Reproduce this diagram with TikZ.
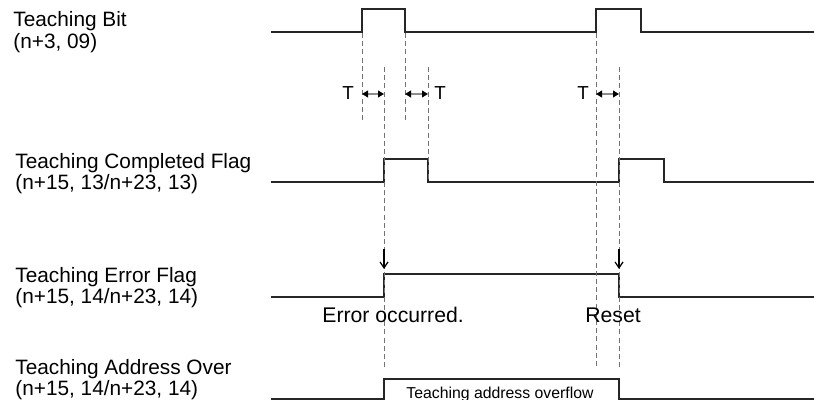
\documentclass[tikz,border=0pt]{standalone}
\usepackage{fontspec}
\setmainfont{Liberation Sans}
\usetikzlibrary{arrows.meta,positioning}

\begin{document}
\begin{tikzpicture}[
  x=0.5pt, y=-0.5pt,
  signal/.style={draw=black!85, line width=0.55pt},
  guide/.style={draw=black!55, line width=0.45pt, dash pattern=on 2.5pt off 1.6pt},
  sigtext/.style={font=\fontsize{10.4}{10.9}\selectfont, align=left, inner sep=0pt, anchor=base west},
  remark/.style={font=\fontsize{10.6}{12}\selectfont, inner sep=0pt, anchor=base west},
  tlabel/.style={font=\fontsize{9.4}{10}\selectfont, inner sep=0pt, anchor=base},
  boxtext/.style={font=\fontsize{7.9}{9}\selectfont, inner sep=0pt, anchor=base},
  span/.style={{Triangle[length=3pt,width=3.4pt,color=black]}-{Triangle[length=3pt,width=3.4pt,color=black]}, draw=black!45, line width=0.6pt},
  event/.style={-{Straight Barb[length=3pt,width=4pt]}, line width=0.6pt}
]
\useasboundingbox (0,0) rectangle (814,400);

% signal names (anchored on the second line)
\node[sigtext] (bitlbl) at (13,48.5) {Teaching Bit\\(n+3, 09)};
\node[sigtext] (donelbl) at (15,190) {Teaching Completed Flag\\(n+15, 13/n+23, 13)};
\node[sigtext] (errlbl) at (15,304) {Teaching Error Flag\\(n+15, 14/n+23, 14)};
\node[sigtext] (overlbl) at (15,396) {Teaching Address Over\\(n+15, 14/n+23, 14)};

% waveforms
\draw[signal] (271,32) -- (362,32) -- (362,9) -- (405,9) -- (405,32) -- (596,32) -- (596,9) -- (641,9) -- (641,32) -- (814,32);
\draw[signal] (271,182) -- (384,182) -- (384,159) -- (428,159) -- (428,182) -- (619,182) -- (619,159) -- (664,159) -- (664,182) -- (814,182);
\draw[signal] (271,297) -- (384,297) -- (384,274) -- (619,274) -- (619,297) -- (814,297);
\draw[signal] (271,399) -- (384,399) -- (384,379) -- (619,379) -- (619,399) -- (814,399);

% timing guides
\coordinate (up1) at (362,33);   \coordinate (up1e) at (362,123);
\coordinate (dn1) at (405,33);   \coordinate (dn1e) at (405,123);
\coordinate (ok1) at (384,67);   \coordinate (ok1e) at (384,368);
\coordinate (ok2) at (428,67);   \coordinate (ok2e) at (428,180);
\coordinate (up2) at (596,33);   \coordinate (up2e) at (596,368);
\coordinate (rs1) at (619,67);   \coordinate (rs1e) at (619,370);
\foreach \a/\b in {up1/up1e, dn1/dn1e, ok1/ok1e, ok2/ok2e, up2/up2e, rs1/rs1e}
  \draw[guide] (\a) -- (\b);

% delay T
\node[tlabel] (t1) at (348,100) {T};
\node[tlabel] (t2) at (440,100) {T};
\node[tlabel] (t3) at (583,100) {T};
\coordinate (tl) at (0,94);
\draw[span] (up1 |- tl) -- (ok1 |- tl);
\draw[span] (dn1 |- tl) -- (ok2 |- tl);
\draw[span] (up2 |- tl) -- (rs1 |- tl);

% error events
\coordinate (ev) at (0,249);
\coordinate (evt) at (0,269);
\draw[event] (ok1 |- ev) -- (ok1 |- evt);
\draw[event] (rs1 |- ev) -- (rs1 |- evt);
\node[remark] (occ) at (322,323) {Error occurred.};
\node[remark] (rst) at (585,323) {Reset};
\node[boxtext] (ovf) at (500,399) {Teaching address overflow};
\end{tikzpicture}
\end{document}
